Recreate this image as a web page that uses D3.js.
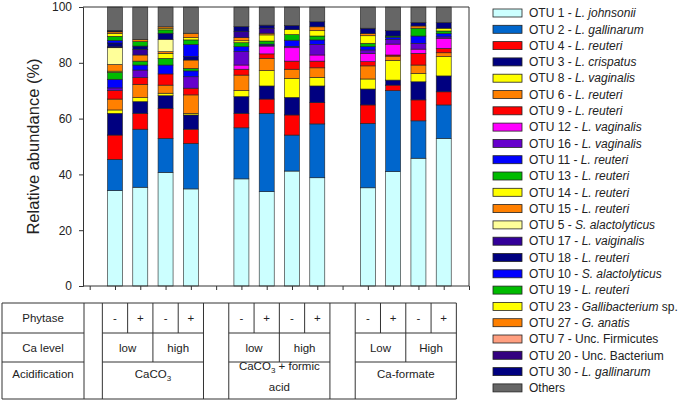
<!DOCTYPE html>
<html><head><meta charset="utf-8">
<script src="https://cdn.jsdelivr.net/npm/d3@7"></script>
<style>body{margin:0;background:#fff}svg{display:block;font-family:"Liberation Sans",Arial,sans-serif}</style>
</head><body><svg id="c" width="685" height="401"></svg>
<script>
// ---------- DATA ----------
const groups = ["CaCO3", "CaCO3 + formic acid", "Ca-formate"];
const caLevels = [["low","high"],["low","high"],["Low","High"]];
const phytase = ["-","+"];
const yTicks = [0,20,40,60,80,100];

const otuIds = ["OTU 1","OTU 2","OTU 4","OTU 3","OTU 8","OTU 6","OTU 9","OTU 12","OTU 16","OTU 11","OTU 13","OTU 14","OTU 15","OTU 5","OTU 17","OTU 18","OTU 10","OTU 19","OTU 23","OTU 27","OTU 7","OTU 20","OTU 30","Others"];
const otuTaxa = ["L. johnsonii","L. gallinarum","L. reuteri","L. crispatus","L. vaginalis","L. reuteri","L. reuteri","L. vaginalis","L. vaginalis","L. reuteri","L. reuteri","L. reuteri","L. reuteri","S. alactolyticus","L. vaiginalis","L. reuteri","S. alactolyticus","L. reuteri","Gallibacterium","G. anatis","Unc. Firmicutes","Unc. Bacterium","L. gallinarum",""];
const otuTaxaItalic = [1,1,1,1,1,1,1,1,1,1,1,1,1,1,1,1,1,1,1,1,0,0,1,0];
const otuTaxaSuffix = ["","","","","","","","","","","","","","","","","",""," sp.","","","","",""];
const otuColors = ["#ccffff","#0066cc","#ff0000","#000080","#ffff00","#ff8000","#ff0000","#ff00ff","#6600cc","#0000ff","#00bb00","#ffff00","#ff8000","#ffff99","#330099","#000080","#0000ff","#00bb00","#ffff00","#ff8000","#ff9f80","#330080","#000080","#666666"];

const otu1  = [34.2,35.4,40.7,34.8, 38.4,33.8,41.2,38.8, 35.2,41.0,45.8,52.9];
const otu2  = [11.2,20.8,12.2,16.3, 18.3,28.1,12.9,19.3, 23.1,29.0,13.4,12.0];
const otu4  = [ 8.7, 5.7,10.8, 5.1,  5.2, 5.1, 7.2, 7.6,  6.6, 2.0, 7.5, 4.7];
const otu3  = [ 7.8, 4.2, 4.5, 5.1,  6.0, 4.7, 6.3, 6.0,  5.7, 1.8, 6.5, 5.7];
const otu8  = [ 1.2, 1.4, 0.9, 0.6,  2.1, 5.5, 6.8, 3.1,  3.6, 7.0, 3.0, 6.9];
const otu6  = [ 3.9, 4.8, 2.9, 6.6,  5.6, 4.4, 3.3, 3.4,  4.7, 1.6, 3.0, 1.4];
const otu9  = [ 3.0, 2.4, 4.0, 2.4,  2.1, 1.6, 2.9, 2.4,  1.5, 0.4, 4.2, 1.6];
const otu12 = [ 0.0, 0.0, 0.0, 0.0,  1.5, 2.8, 4.8, 2.2,  3.0, 3.9, 1.5, 3.6];
const otu16 = [ 1.0, 2.7, 0.0, 4.1,  4.8, 0.3, 0.5, 3.8,  1.2, 1.7, 2.1, 0.5];
const otu11 = [ 3.1, 1.8, 3.2, 2.1,  1.8, 0.4, 2.2, 1.6,  1.2, 0.8, 2.6, 1.2];
const otu13 = [ 2.5, 1.4, 2.4, 0.9,  1.4, 1.1, 2.0, 1.4,  1.2, 0.4, 2.8, 0.9];
const otu14 = [ 0.4, 0.0, 1.8, 0.0,  0.7, 2.2, 1.8, 1.9,  2.7, 0.0, 0.0, 1.0];
const otu15 = [ 2.4, 2.2, 0.6, 3.0,  1.1, 0.6, 0.0, 1.4,  0.8, 0.0, 0.8, 0.0];
const otu5  = [ 6.0, 0.0, 4.4, 0.0,  0.0, 0.0, 0.0, 0.0,  0.0, 0.0, 0.0, 0.0];
const otu17 = [ 0.3, 2.0, 0.0, 0.0,  2.2, 1.8, 0.0, 0.0,  0.0, 0.0, 0.0, 0.0];
const otu18 = [ 1.4, 1.2, 2.2, 1.2,  1.8, 1.1, 1.5, 1.8,  1.9, 1.9, 1.2, 2.0];
const otu10 = [ 0.9, 0.0, 0.0, 4.4,  0.0, 0.0, 0.0, 0.0,  0.0, 0.0, 0.0, 0.0];
const otu19 = [ 1.5, 1.6, 1.2, 1.6,  0.0, 0.0, 0.0, 0.0,  0.0, 0.0, 0.0, 0.0];
const otu23 = [ 1.0, 0.0, 0.6, 0.8,  0.0, 0.0, 0.0, 0.0,  0.0, 0.0, 0.0, 0.0];
const otu27 = [ 0.6, 0.8, 0.5, 1.6,  0.0, 0.0, 0.0, 0.0,  0.0, 0.0, 0.0, 0.0];
const otu7  = [ 0.2, 0.0, 0.0, 0.0,  0.0, 0.0, 0.0, 0.0,  0.0, 0.0, 0.0, 0.0];
const otu20 = [ 0.0, 0.0, 0.0, 0.0,  0.0, 0.0, 0.0, 0.0,  0.0, 0.0, 0.0, 0.0];
const otu30 = [ 0.3, 0.0, 0.0, 0.0,  0.0, 0.0, 0.0, 0.0,  0.0, 0.0, 0.0, 0.0];
const others= [ 8.4,11.6, 7.1, 9.4,  7.0, 6.5, 6.6, 5.3,  7.6, 8.5, 5.6, 5.6];

const seriesValues = [otu1,otu2,otu4,otu3,otu8,otu6,otu9,otu12,otu16,otu11,otu13,otu14,otu15,otu5,otu17,otu18,otu10,otu19,otu23,otu27,otu7,otu20,otu30,others];

// ---------- CHART ----------
const svg = d3.select("#c");
const axisColor = "#333";
const y = d3.scaleLinear().domain([0,100]).range([286,7]);
const x = d3.scaleLinear().domain([-1.265,14]).range([83,469]);
const slotOf = i => Math.floor(i/4)*5 + (i%4);
const nBars = otu1.length;

const rows = d3.range(nBars).map(i => {
  const r = {i};
  otuIds.forEach((k,s) => r[k] = seriesValues[s][i]);
  return r;
});
const stacked = d3.stack().keys(otuIds)(rows);
const barW = 15;

const gBars = svg.append("g");
stacked.forEach((layer, s) => {
  gBars.selectAll(null).data(layer.filter(d => d[1]-d[0] > 0)).enter().append("rect")
    .attr("x", d => x(slotOf(d.data.i)) - barW/2)
    .attr("width", barW)
    .attr("y", d => y(d[1]))
    .attr("height", d => y(d[0]) - y(d[1]))
    .attr("fill", otuColors[s])
    .attr("stroke", "#222")
    .attr("stroke-width", 0.6);
});

// frame
svg.append("line").attr("x1",x.range()[0]).attr("x2",x.range()[1]).attr("y1",y(100)).attr("y2",y(100)).attr("stroke",axisColor);
svg.append("line").attr("x1",x.range()[1]).attr("x2",x.range()[1]).attr("y1",y(100)).attr("y2",y(0)).attr("stroke",axisColor);

// axes
const yAxis = svg.append("g").attr("transform",`translate(${x.range()[0]},0)`)
  .call(d3.axisLeft(y).tickValues(yTicks).tickSize(4).tickPadding(7));
yAxis.select(".domain").attr("stroke",axisColor);
yAxis.selectAll(".tick line").attr("stroke",axisColor);
yAxis.selectAll("text").attr("font-size",12).attr("fill","#222").attr("font-family","Liberation Sans, Arial, sans-serif");

const xAxis = svg.append("g").attr("transform",`translate(0,${y(0)})`)
  .call(d3.axisBottom(x).tickValues(d3.range(-1,15)).tickSize(4).tickFormat(""));
xAxis.select(".domain").attr("stroke",axisColor).attr("d",`M${x.range()[0]},0H${x.range()[1]}`);
xAxis.selectAll(".tick line").attr("stroke",axisColor);

svg.append("text").attr("transform",`translate(39,${(y(0)+y(100))/2}) rotate(-90)`)
  .attr("text-anchor","middle").attr("font-size",16.5).attr("fill","#222")
  .text("Relative abundance (%)");

// legend
const lg = svg.append("g");
const lx = 493, ly0 = 13, lstep = 16.3;
otuIds.forEach((id, s) => {
  const cy = ly0 + s*lstep;
  lg.append("rect").attr("x",lx).attr("y",cy-4).attr("width",29).attr("height",8)
    .attr("fill",otuColors[s]).attr("stroke","#222").attr("stroke-width",0.8);
  const t = lg.append("text").attr("x",529).attr("y",cy+4.2).attr("font-size",12).attr("fill","#222");
  if (id === "Others") { t.text("Others"); return; }
  t.append("tspan").text(id + " - ");
  t.append("tspan").attr("font-style", otuTaxaItalic[s] ? "italic" : "normal").text(otuTaxa[s]);
  if (otuTaxaSuffix[s]) t.append("tspan").text(otuTaxaSuffix[s]);
});

// table
const tb = svg.append("g").attr("stroke",axisColor).attr("stroke-width",1);
const tTop = 303, r1 = 333, r2 = 362, tBot = 399;
const tLeft = 2, labRight = 84;
const tRight = x(13.5);
const ln = (x1,y1,x2,y2) => tb.append("line").attr("x1",x1).attr("y1",y1).attr("x2",x2).attr("y2",y2);
ln(tLeft,tTop,tRight,tTop); ln(tLeft,tBot,tRight,tBot);
ln(tLeft,tTop,tLeft,tBot); ln(labRight,tTop,labRight,tBot);
ln(tLeft,r1,labRight,r1); ln(tLeft,r2,labRight,r2);
const tt = svg.append("g").attr("font-size",11.5).attr("fill","#222").attr("text-anchor","middle");
const lcx = (tLeft+labRight)/2;
tt.append("text").attr("x",lcx).attr("y",(tTop+r1)/2+4).text("Phytase");
tt.append("text").attr("x",lcx).attr("y",(r1+r2)/2+4).text("Ca level");
tt.append("text").attr("x",lcx).attr("y",378).text("Acidification");

groups.forEach((gname, g) => {
  const s0 = g*5;
  const gl = x(s0-0.5), gr = x(s0+3.5), gm = x(s0+1.5);
  ln(gl,tTop,gl,tBot); ln(gr,tTop,gr,tBot);
  ln(gl,r1,gr,r1); ln(gl,r2,gr,r2);
  ln(gm,tTop,gm,r2);
  [0.5,2.5].forEach(o => ln(x(s0+o),tTop,x(s0+o),r1));
  for (let j=0;j<4;j++) {
    tt.append("text").attr("x",x(s0+j)).attr("y",(tTop+r1)/2+4).text(phytase[j%2]);
  }
  caLevels[g].forEach((c,k) => {
    tt.append("text").attr("x",x(s0+0.5+2*k)).attr("y",(r1+r2)/2+4).text(c);
  });
  const cx = x(s0+1.5);
  const parts = gname.split("CaCO3");
  if (gname.startsWith("CaCO3")) {
    const rest = gname.slice(5);
    const t = tt.append("text").attr("x",cx).attr("y", rest ? 370 : 378);
    t.append("tspan").text("CaCO");
    t.append("tspan").attr("font-size",8).attr("dy",3).text("3");
    if (rest) {
      const words = rest.trim().split(" "); // ["+","formic","acid"]
      t.append("tspan").attr("dy",-3).text(" " + words.slice(0,2).join(" "));
      tt.append("text").attr("x",cx).attr("y",391).text(words.slice(2).join(" "));
    }
  } else {
    tt.append("text").attr("x",cx).attr("y",378).text(gname);
  }
});
</script></body></html>
